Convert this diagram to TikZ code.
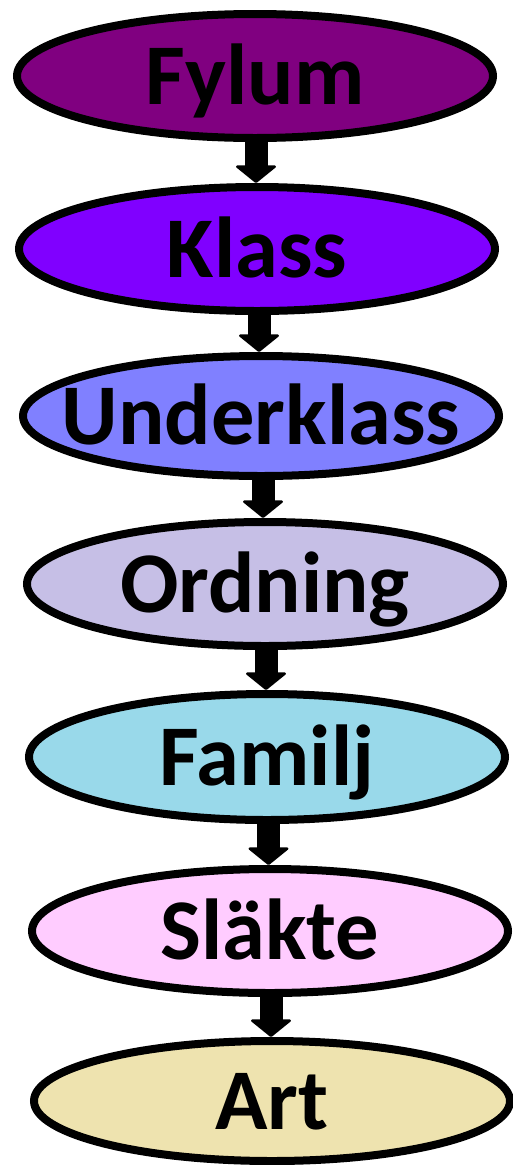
\documentclass[tikz,border=0pt]{standalone}
\usepackage{fontspec}
\setmainfont{Carlito}
\usetikzlibrary{shapes.geometric,arrows.meta,calc}

\definecolor{cFylum}{HTML}{800080}
\definecolor{cKlass}{HTML}{8000FF}
\definecolor{cUnder}{HTML}{8080FF}
\definecolor{cOrdning}{HTML}{C6BFE6}
\definecolor{cFamilj}{HTML}{99D9EA}
\definecolor{cSlakte}{HTML}{FFCCFF}
\definecolor{cArt}{HTML}{EEE3AF}

\begin{document}
\begin{tikzpicture}[x=1pt,y=-1pt,
  rank/.style={ellipse, draw=black, line width=8pt, inner sep=0pt,
               minimum width=476pt, minimum height=124pt},
  rankname/.style={font=\fontsize{86.5}{86.5}\selectfont\bfseries,
                   text height=56pt, text depth=0pt, inner sep=0pt},
  down/.style={line width=23pt,
               -{Triangle[width=44pt,length=18pt,line width=2.5pt,round]}}
]
\useasboundingbox (0,0) rectangle (513,1165);
\fill[white] (0,0) rectangle (513,1165);

% taxonomic ranks, top to bottom
\node[rank, fill=cFylum] (fylum) at (255,76) {};
\node[rankname] (fylumT) at (fylum.center) {Fylum};

\node[rank, fill=cKlass] (klass) at (257,249) {};
\node[rankname] (klassT) at (klass.center) {Klass};

\node[rank, fill=cUnder, minimum height=120pt] (under) at (261,416) {};
\node[rankname] (underT) at (under.center) {Underklass};

\node[rank, fill=cOrdning] (ordning) at (265,584) {};
\node[rankname] (ordningT) at (ordning.center) {Ordning};

\node[rank, fill=cFamilj, minimum height=126pt] (familj) at (267,757) {};
\node[rankname] (familjT) at (familj.center) {Familj};

\node[rank, fill=cSlakte] (slakte) at (270,931) {};
\node[rankname] (slakteT) at (slakte.center) {Släkte};

\node[rank, fill=cArt, minimum height=120pt] (art) at (272,1101) {};
\node[rankname] (artT) at (art.center) {Art};

% block arrows between consecutive ranks
\foreach \a/\b in {fylum/klass, klass/under, under/ordning,
                   ordning/familj, familj/slakte, slakte/art} {
  \path (\a.south) -- (\b.north) coordinate[pos=.5] (mid);
  \draw[down] (mid |- \a.south) -- (mid |- \b.north);
}
\end{tikzpicture}
\end{document}
